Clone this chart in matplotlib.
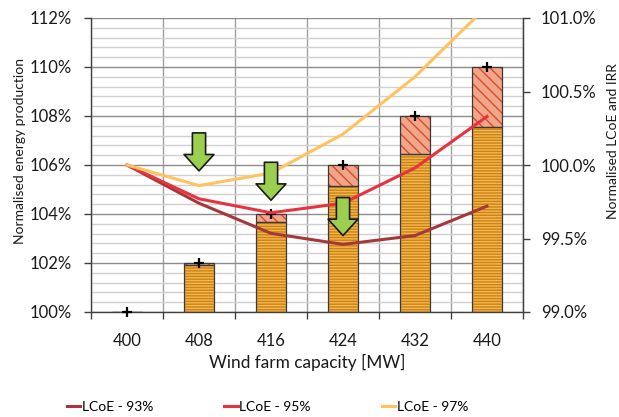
import matplotlib
matplotlib.use("Agg")
import matplotlib.pyplot as plt
import numpy as np
from matplotlib.ticker import FuncFormatter, MultipleLocator, FixedLocator

plt.rcParams['font.family'] = ['Lato', 'DejaVu Sans']
plt.rcParams['hatch.linewidth'] = 1.0

# ---- data ----
capacity = ['400', '408', '416', '424', '432', '440']
energy_base = [100.0, 101.93, 103.67, 105.16, 106.44, 107.54]   # orange part
energy_total = [100.0, 102.0, 104.0, 106.0, 108.0, 110.0]       # top of hatched part / + markers
lcoe_93 = [100.0, 99.74, 99.535, 99.46, 99.52, 99.72]
lcoe_95 = [100.0, 99.77, 99.675, 99.74, 99.98, 100.33]
lcoe_97 = [100.0, 99.86, 99.945, 100.21, 100.60, 101.08]
arrow_cats = [1, 2, 3]
arrow_tips = [99.96, 99.76, 99.52]

x = np.arange(len(capacity))
W, H = 619, 417
fig = plt.figure(figsize=(W / 100, H / 100), dpi=100)
ax = fig.add_axes([91 / W, 1 - 312 / H, 432 / W, 294 / H])

# left axis
ax.set_ylim(100, 112)
ax.set_xlim(-0.5, len(capacity) - 0.5)
ax.yaxis.set_major_locator(MultipleLocator(2))
ax.yaxis.set_minor_locator(MultipleLocator(0.4))
ax.yaxis.set_major_formatter(FuncFormatter(lambda v, p: f"{v:.0f}%"))
ax.grid(which='major', axis='y', color='#8c8c8c', lw=1.0, zorder=0)
ax.grid(which='minor', axis='y', color='#d0d0d0', lw=1.0, zorder=0)
ax.set_axisbelow(True)

# x ticks: boundaries as major (gridlines), labels on centers
ax.xaxis.set_major_locator(FixedLocator(np.arange(-0.5, len(capacity), 1.0)))
ax.xaxis.set_major_formatter(FuncFormatter(lambda v, p: ""))
ax.xaxis.set_minor_locator(FixedLocator(x))
ax.set_xticklabels(capacity, minor=True)
ax.grid(which='major', axis='x', color='#a0a0a0', lw=1.0, zorder=0)
ax.tick_params(axis='x', which='major', length=5, width=1, color='#404040', direction='out')
ax.tick_params(axis='x', which='minor', length=0, pad=15, labelsize=12, labelcolor='#1a1a1a')
ax.tick_params(axis='y', which='major', length=5, width=1, color='#404040', direction='out', pad=9,
               labelsize=12, labelcolor='#1a1a1a')
ax.tick_params(axis='y', which='minor', length=0)

ax.spines['top'].set_visible(False)
for s in ['left', 'bottom', 'right']:
    ax.spines[s].set_color('#404040')
    ax.spines[s].set_linewidth(1.0)

bw = 0.42
base_h = [b - 100 for b in energy_base]
top_h = [t - b for t, b in zip(energy_total, energy_base)]
ax.bar(x, base_h, bw, bottom=100, color='#f6b64a', edgecolor='#c98419', lw=0,
       hatch='------', zorder=2)
ax.bar(x, base_h, bw, bottom=100, fill=False, edgecolor='#3a3a3a', lw=0.9, zorder=3)
ax.bar(x, top_h, bw, bottom=energy_base, color='#f3a58a', edgecolor='#d0502a', lw=0,
       hatch='\\\\\\', zorder=2)
ax.bar(x, top_h, bw, bottom=energy_base, fill=False, edgecolor='#3a3a3a', lw=0.9, zorder=3)
ax.plot(x, energy_total, linestyle='none', marker='+', ms=7, mew=1.6, color='black', zorder=6,
        clip_on=False)

ax.set_xlabel('Wind farm capacity [MW]', fontsize=12.4, color='#1a1a1a')
ax.xaxis.set_label_coords(0.5, -0.142)
ax.set_ylabel('Normalised energy production', fontsize=10, color='#1a1a1a')
ax.yaxis.set_label_coords(-0.150, 0.546)

# right axis
ax2 = ax.twinx()
ax2.set_ylim(99.0, 101.0)
ax2.set_xlim(-0.5, len(capacity) - 0.5)
ax2.yaxis.set_major_locator(MultipleLocator(0.5))
ax2.yaxis.set_minor_locator(MultipleLocator(0.1))
ax2.yaxis.set_major_formatter(FuncFormatter(lambda v, p: f"{v:.1f}%"))
ax2.tick_params(axis='y', which='major', length=5, width=1, color='#404040', direction='out', pad=8,
                labelsize=12, labelcolor='#1a1a1a')
ax2.tick_params(axis='y', which='minor', length=0)
for s in ax2.spines.values():
    s.set_visible(False)
ax2.spines['right'].set_visible(True)
ax2.spines['right'].set_color('#404040')

l1, = ax2.plot(x, lcoe_93, color='#a5383a', lw=2.2, label='LCoE - 93%', zorder=4)
l2, = ax2.plot(x, lcoe_95, color='#e8323e', lw=2.2, label='LCoE - 95%', zorder=4)
l3, = ax2.plot(x, lcoe_97, color='#ffc25e', lw=2.2, label='LCoE - 97%', zorder=4)

ax2.set_ylabel('Normalised LCoE and IRR', fontsize=10, color='#1a1a1a')
ax2.yaxis.set_label_coords(1.194, 0.58)

for c, t in zip(arrow_cats, arrow_tips):
    ax2.annotate('', xy=(c, t), xytext=(0, 38), textcoords='offset pixels',
                 arrowprops=dict(arrowstyle='simple,head_width=2.15,head_length=1.18,tail_width=0.95',
                                 fc='#9ccf50', ec='#1a1a1a', lw=1.2, shrinkA=0, shrinkB=0),
                 zorder=7)

fig.legend(handles=[l1, l2, l3], loc='center left', bbox_to_anchor=(67 / W, 1 - 407 / H),
           ncol=3, frameon=False, fontsize=10, handlelength=0.95, handletextpad=0.1,
           columnspacing=5.15, borderaxespad=0, borderpad=0)

fig.savefig('out.png', dpi=100)
